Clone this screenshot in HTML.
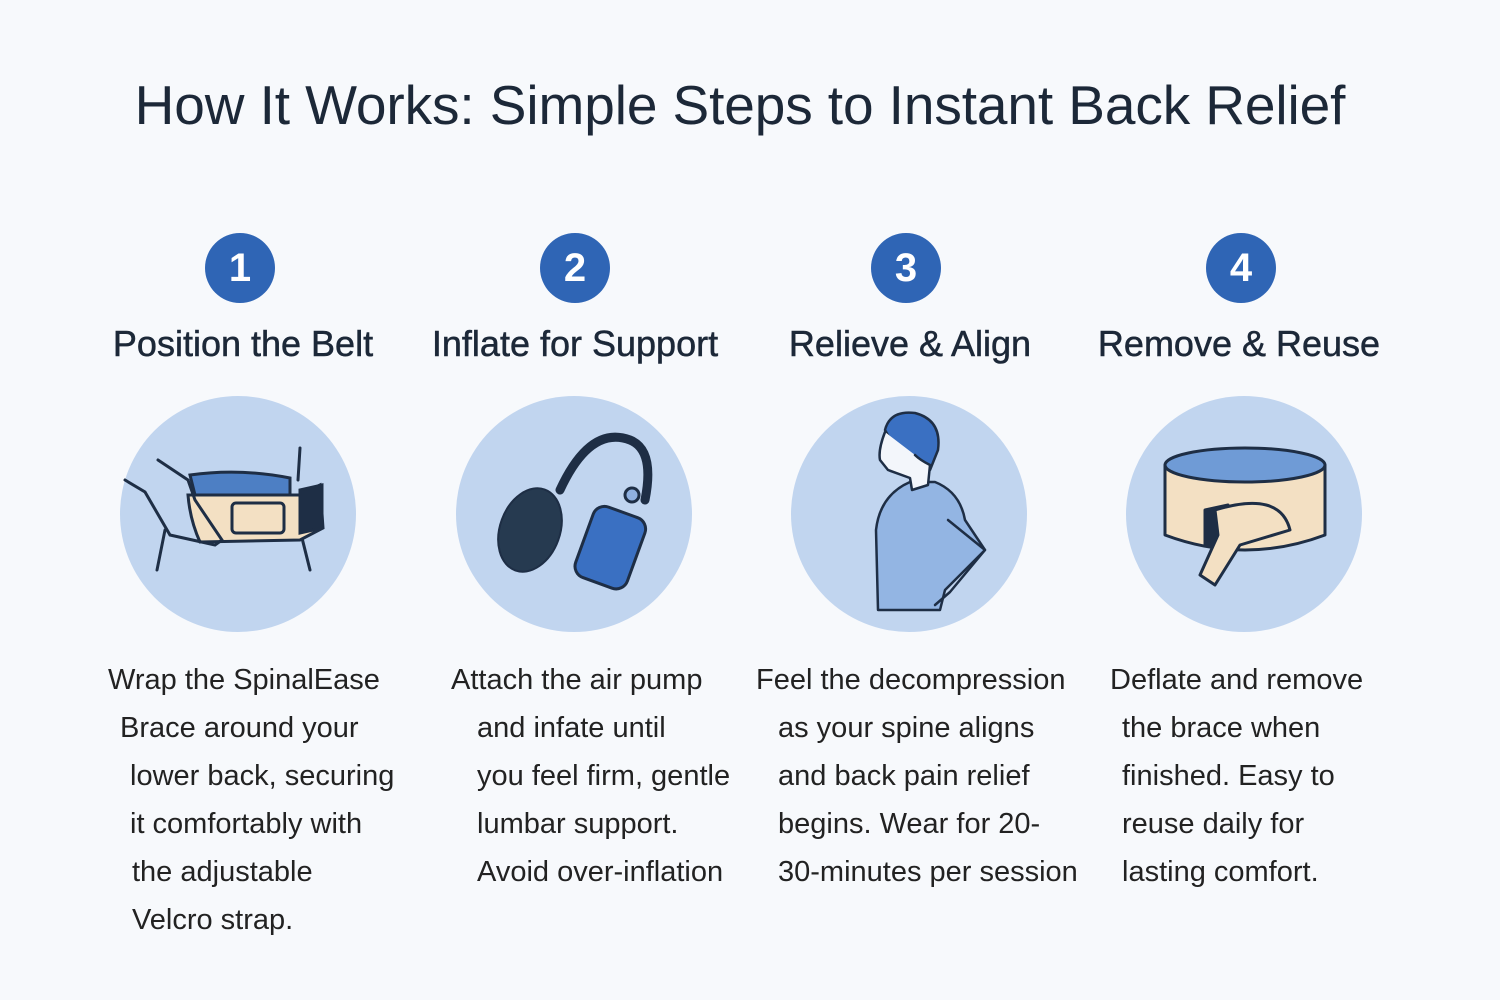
<!DOCTYPE html>
<html><head><meta charset="utf-8"><style>
body{margin:0;width:1500px;height:1000px;background:#f7f9fc;position:relative;overflow:hidden;font-family:"Liberation Sans","DejaVu Sans",sans-serif;color:#1e2a3a}
.t{position:absolute;white-space:nowrap}
.title{left:0;width:1480px;text-align:center;top:73px;font-size:55px;font-weight:500;letter-spacing:-0.1px;color:#1c2838}
.num{position:absolute;width:70px;height:70px;border-radius:50%;background:#2f65b5;color:#fff;font-size:40px;font-weight:bold;text-align:center;line-height:70px;top:233px}
.h{top:323px;font-size:36px;text-align:center;width:400px;color:#1c2838;-webkit-text-stroke:0.5px #1c2838}
.b{font-size:29px;color:#222}
</style></head><body>
<div class="t title">How It Works: Simple Steps to Instant Back Relief</div>
<div class="num" style="left:205px">1</div>
<div class="num" style="left:540px">2</div>
<div class="num" style="left:871px">3</div>
<div class="num" style="left:1206px">4</div>
<div class="t h" style="left:43px">Position the Belt</div>
<div class="t h" style="left:375px">Inflate for Support</div>
<div class="t h" style="left:710px">Relieve &amp; Align</div>
<div class="t h" style="left:1039px">Remove &amp; Reuse</div>
<svg width="1500" height="1000" style="position:absolute;left:0;top:0">
<g fill="#c1d5ef"><circle cx="238" cy="514" r="118"/><circle cx="574" cy="514" r="118"/><circle cx="909" cy="514" r="118"/><circle cx="1244" cy="514" r="118"/></g>
<g stroke="#1e2e45" stroke-width="3" stroke-linecap="round">
<line x1="300" y1="448" x2="298" y2="480"/><line x1="300" y1="530" x2="310" y2="570"/><line x1="165" y1="530" x2="157" y2="570"/>
<path d="M190 475 Q240 468 290 478 L290 495 L195 495Z" fill="#4d7fc4"/>
<path d="M188 495 L300 495 L320 485 L323 528 L300 540 L200 542 Q190 520 188 495Z" fill="#f3e0c3"/>
<path d="M300 490 L322 485 L322 528 L300 533Z" fill="#1e2e45"/>
<rect x="232" y="503" width="52" height="30" rx="4" fill="none"/>
<path d="M125 480 L145 492 L170 535 L215 545 L222 540 L195 500 L188 480 L158 460" fill="none"/>
</g>
<g stroke="#1e2e45" stroke-linecap="round">
<path d="M560 490 Q590 425 630 440 Q655 450 645 500" fill="none" stroke-width="9"/>
<ellipse cx="530" cy="530" rx="30" ry="43" transform="rotate(20 530 530)" fill="#263a50" stroke-width="2"/>
<circle cx="632" cy="495" r="7" fill="#8fb0e0" stroke-width="3"/>
<rect x="583" y="510" width="55" height="75" rx="12" transform="rotate(20 610 547)" fill="#3a70c2" stroke-width="3"/>
</g>
<g stroke="#1e2e45" stroke-width="2.5" stroke-linecap="round" stroke-linejoin="round">
<path d="M878 610 L876 530 Q880 495 910 482 L935 482 Q960 492 965 520 L985 550 L945 590 L940 610Z" fill="#93b5e3"/>
<path d="M885 430 Q890 410 915 413 Q942 420 938 450 L930 470 L910 475 Z" fill="#3a70c2"/>
<path d="M885 432 Q878 450 880 460 L888 470 L910 478 L912 490 L928 485 L930 465 Q920 460 915 455" fill="#f3f6fb"/>
<path d="M948 520 L985 550 L950 592 L935 605" fill="none"/>
</g>
<g stroke="#1e2e45" stroke-width="3" stroke-linejoin="round">
<path d="M1165 465 Q1245 440 1325 465 L1325 535 Q1245 565 1165 535Z" fill="#f3e0c3"/>
<ellipse cx="1245" cy="465" rx="80" ry="17" fill="#6f9bd6"/>
<path d="M1205 510 L1228 505 L1228 545 L1205 545Z" fill="#1e2e45"/>
<path d="M1215 510 Q1280 490 1290 530 L1240 545 L1215 585 L1200 575 L1218 535Z" fill="#f3e0c3"/>
</g>
</svg>
<div class="t b" style="left:108px;top:664px">Wrap the SpinalEase</div>
<div class="t b" style="left:120px;top:712px">Brace around your</div>
<div class="t b" style="left:130px;top:760px">lower back, securing</div>
<div class="t b" style="left:130px;top:808px">it comfortably with</div>
<div class="t b" style="left:132px;top:856px">the adjustable</div>
<div class="t b" style="left:132px;top:904px">Velcro strap.</div>
<div class="t b" style="left:451px;top:664px">Attach the air pump</div>
<div class="t b" style="left:477px;top:712px">and infate until</div>
<div class="t b" style="left:477px;top:760px">you feel firm, gentle</div>
<div class="t b" style="left:477px;top:808px">lumbar support.</div>
<div class="t b" style="left:477px;top:856px">Avoid over-inflation</div>
<div class="t b" style="left:756px;top:664px">Feel the decompression</div>
<div class="t b" style="left:778px;top:712px">as your spine aligns</div>
<div class="t b" style="left:778px;top:760px">and back pain relief</div>
<div class="t b" style="left:778px;top:808px">begins. Wear for 20-</div>
<div class="t b" style="left:778px;top:856px">30-minutes per session</div>
<div class="t b" style="left:1110px;top:664px">Deflate and remove</div>
<div class="t b" style="left:1122px;top:712px">the brace when</div>
<div class="t b" style="left:1122px;top:760px">finished. Easy to</div>
<div class="t b" style="left:1122px;top:808px">reuse daily for</div>
<div class="t b" style="left:1122px;top:856px">lasting comfort.</div>
</body></html>
